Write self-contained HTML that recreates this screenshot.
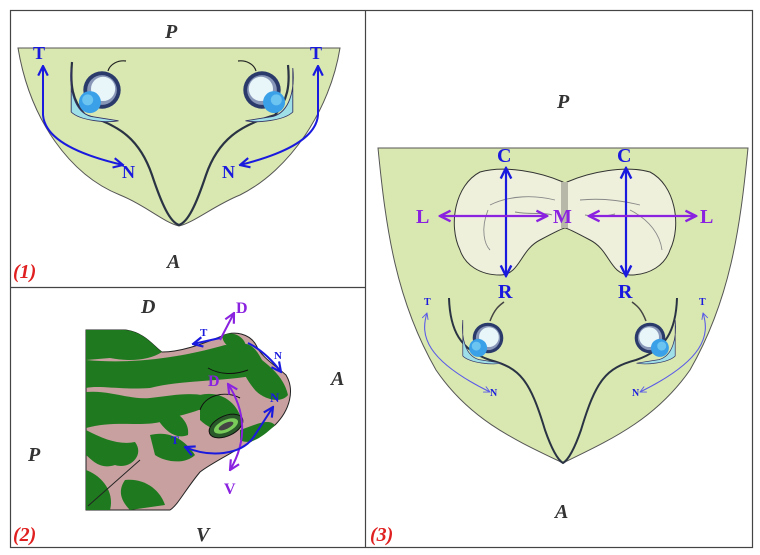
<!DOCTYPE html>
<html><head><meta charset="utf-8"><style>
html,body{margin:0;padding:0;background:#fff;width:760px;height:555px;overflow:hidden}
svg{display:block}
text{font-family:"Liberation Serif",serif;font-weight:bold}
.it{font-style:italic;fill:#333}
.b{fill:#1a1adf}
.v{fill:#8a22e0}
</style></head><body>
<svg width="760" height="555" viewBox="0 0 760 555" xmlns="http://www.w3.org/2000/svg">
<defs>
<marker id="ab" viewBox="0 0 10 10" refX="9" refY="5" markerWidth="6" markerHeight="6" orient="auto-start-reverse"><path d="M1,1 L9,5 L1,9" fill="none" stroke="#1a1adf" stroke-width="1.8"/></marker>
<marker id="av" viewBox="0 0 10 10" refX="9" refY="5" markerWidth="6" markerHeight="6" orient="auto-start-reverse"><path d="M1,1 L9,5 L1,9" fill="none" stroke="#8a22e0" stroke-width="1.8"/></marker>
<marker id="as" viewBox="0 0 10 10" refX="9" refY="5" markerWidth="7" markerHeight="7" orient="auto-start-reverse"><path d="M1,1 L9,5 L1,9" fill="none" stroke="#5a5ae8" stroke-width="1.2"/></marker>
<g id="eyeL">
<path d="M-28,-20 C-30,0 -25,20 -10,24 L15,28 C5,30 -20,28 -28,20 Z" fill="#9fe0e8" stroke="#336" stroke-width="0.8"/>
<circle cx="0" cy="0" r="17" fill="#2a3a6a"/>
<circle cx="0" cy="0" r="13.5" fill="#8896b8"/>
<circle cx="1" cy="-1" r="11" fill="#e8f6fa"/>
<circle cx="-11" cy="11" r="10" fill="#3aa0e8"/>
<circle cx="-13" cy="9" r="5" fill="#6cc4f0"/>
</g>
</defs>
<rect x="10.5" y="10.5" width="742" height="537" fill="none" stroke="#444" stroke-width="1.2"/>
<line x1="365.5" y1="10" x2="365.5" y2="548" stroke="#444" stroke-width="1.2"/>
<line x1="10" y1="287.5" x2="365" y2="287.5" stroke="#444" stroke-width="1.2"/>

<!-- PANEL 1 -->
<path d="M18,48 L340,48 C330,110 290,170 240,195 C215,205 195,222 179,226 C163,222 145,205 120,195 C70,175 30,120 18,48 Z" fill="#d9e8b0" stroke="#555" stroke-width="1"/>
<path d="M72,62 C70,85 72,100 85,115 C120,125 140,140 152,175 C162,205 170,222 179,225 C188,222 196,205 206,175 C218,140 240,125 275,115 C288,100 290,85 288,65" fill="none" stroke="#2a3344" stroke-width="2.2"/>
<use href="#eyeL" transform="translate(102,90) scale(1.1)"/>
<use href="#eyeL" transform="translate(262,90) scale(-1.1,1.1)"/>
<path d="M108,71 C110,64 118,60 126,61" fill="none" stroke="#222" stroke-width="1.2"/>
<path d="M256,71 C254,64 246,60 238,61" fill="none" stroke="#222" stroke-width="1.2"/>
<path d="M43,66 L43,115 C45,140 80,155 123,165" fill="none" stroke="#1a1adf" stroke-width="2" marker-start="url(#ab)" marker-end="url(#ab)"/>
<path d="M318,66 L318,115 C316,140 280,155 240,165" fill="none" stroke="#1a1adf" stroke-width="2" marker-start="url(#ab)" marker-end="url(#ab)"/>
<text x="33" y="59" font-size="18" class="b">T</text>
<text x="310" y="59" font-size="18" class="b">T</text>
<text x="122" y="178" font-size="18" class="b">N</text>
<text x="222" y="178" font-size="18" class="b">N</text>
<text x="165" y="38" font-size="20" class="it">P</text>
<text x="167" y="268" font-size="20" class="it">A</text>
<text x="13" y="278" font-size="20" font-style="italic" fill="#e02020">(1)</text>

<!-- PANEL 2 -->
<path d="M86,330 L125,330 C145,332 155,348 162,352 C180,352 200,345 222,336 C235,330 250,334 256,345 C262,358 275,365 286,375 C295,390 290,410 275,425 C250,445 215,460 200,472 C185,490 178,505 170,510 L86,510 Z" fill="#c8a0a0" stroke="#222" stroke-width="1"/>
<g fill="#1f7a1f">
<path d="M86,330 L125,330 C145,332 155,348 162,352 C150,360 130,362 110,358 L86,360 Z"/>
<path d="M86,360 C140,365 190,355 225,345 C250,345 262,362 258,375 C220,382 180,380 150,388 C120,390 100,385 86,388 Z"/>
<path d="M86,392 C110,390 130,400 150,398 C175,395 200,390 215,400 C205,412 180,414 160,422 C140,427 115,420 86,428 Z"/>
<path d="M86,430 C105,440 120,445 135,442 C145,455 130,470 115,465 C100,470 92,460 86,455 Z"/>
<path d="M150,435 C170,430 185,440 195,455 C185,465 165,462 155,455 Z"/>
<path d="M86,470 C100,475 115,490 110,510 L86,510 Z"/>
<path d="M125,480 C145,478 160,490 165,505 L130,510 C120,500 118,490 125,480 Z"/>
<path d="M240,345 C250,340 258,352 262,360 C272,368 284,378 288,395 C280,405 262,398 255,390 C245,378 236,362 240,345 Z"/>
<path d="M200,395 C220,390 238,402 242,422 C232,436 212,432 200,420 Z"/>
<path d="M222,336 C232,330 244,336 246,346 C236,352 224,348 222,336 Z"/>
<path d="M160,405 C175,410 190,420 188,435 C175,440 165,430 158,420 Z"/>
<path d="M240,430 C255,425 268,418 275,425 C260,440 248,445 240,440 Z"/>
</g>
<ellipse cx="226" cy="426" rx="18" ry="10" transform="rotate(-25 226 426)" fill="#2a5a2a" stroke="#111" stroke-width="1"/>
<ellipse cx="226" cy="426" rx="13" ry="6" transform="rotate(-25 226 426)" fill="#7acc5a"/>
<ellipse cx="226" cy="426" rx="8" ry="3" transform="rotate(-25 226 426)" fill="#444"/>
<path d="M200,410 C205,395 225,390 240,398" fill="none" stroke="#111" stroke-width="1"/>
<path d="M208,368 C220,375 235,375 248,370" fill="none" stroke="#111" stroke-width="1"/>
<path d="M88,506 L140,460" stroke="#222" stroke-width="1"/>
<path d="M193,344 L220,338" fill="none" stroke="#1a1adf" stroke-width="2" marker-start="url(#ab)"/>
<path d="M220,340 L234,313" fill="none" stroke="#8a22e0" stroke-width="2" marker-end="url(#av)"/>
<path d="M248,343 C262,350 272,360 281,372" fill="none" stroke="#1a1adf" stroke-width="2" marker-end="url(#ab)"/>
<path d="M228,384 C245,410 248,440 230,470" fill="none" stroke="#8a22e0" stroke-width="2" marker-start="url(#av)" marker-end="url(#av)"/>
<path d="M185,447 C210,458 240,455 253,438 L273,407" fill="none" stroke="#1a1adf" stroke-width="2" marker-start="url(#ab)" marker-end="url(#ab)"/>
<text x="236" y="313" font-size="16" class="v">D</text>
<text x="200" y="336" font-size="11" class="b">T</text>
<text x="274" y="359" font-size="11" class="b">N</text>
<text x="208" y="386" font-size="16" class="v">D</text>
<text x="270" y="402" font-size="13" class="b">N</text>
<text x="171" y="444" font-size="12" class="b">T</text>
<text x="224" y="494" font-size="16" class="v">V</text>
<text x="141" y="313" font-size="20" class="it">D</text>
<text x="331" y="385" font-size="20" class="it">A</text>
<text x="28" y="461" font-size="20" class="it">P</text>
<text x="196" y="541" font-size="20" class="it">V</text>
<text x="13" y="541" font-size="20" font-style="italic" fill="#e02020">(2)</text>

<!-- PANEL 3 -->
<path d="M378,148 L748,148 C740,230 730,300 690,370 C655,420 610,440 563,463 C515,440 470,420 436,370 C396,300 386,230 378,148 Z" fill="#d9e8b0" stroke="#555" stroke-width="1"/>
<path d="M449,298 C450,330 460,350 490,360 C520,368 530,380 545,430 C552,450 558,460 563,463 C568,460 574,450 581,430 C596,380 606,368 636,360 C666,350 676,330 677,298" fill="none" stroke="#2a3344" stroke-width="2"/>
<path d="M563,182 C540,172 505,165 480,172 C455,185 448,225 460,250 C465,265 480,275 500,275 C520,275 520,250 540,240 C555,232 563,228 565,228 Z" fill="#eef0dc" stroke="#333" stroke-width="1"/>
<path d="M567,182 C590,172 625,165 650,172 C675,185 682,225 670,250 C665,265 650,275 630,275 C610,275 610,250 590,240 C575,232 567,228 565,228 Z" fill="#eef0dc" stroke="#333" stroke-width="1"/>
<rect x="561" y="182" width="7" height="46" fill="#b8b8a8"/>
<g fill="none" stroke="#888" stroke-width="0.9">
<path d="M490,205 C510,195 535,195 555,200"/><path d="M488,210 C480,230 485,245 490,250"/><path d="M515,212 C530,215 545,212 552,215"/>
<path d="M580,200 C600,198 620,200 640,205"/><path d="M630,210 C650,220 660,235 662,250"/><path d="M585,215 C600,218 610,215 615,214"/>
</g>
<use href="#eyeL" transform="translate(488,338) scale(0.9)"/>
<use href="#eyeL" transform="translate(650,338) scale(-0.9,0.9)"/>
<path d="M490,321 C495,308 500,305 504,302" fill="none" stroke="#444" stroke-width="1.5"/>
<path d="M646,321 C641,308 636,305 632,302" fill="none" stroke="#444" stroke-width="1.5"/>
<line x1="506" y1="168" x2="506" y2="276" stroke="#1a1adf" stroke-width="2.2" marker-start="url(#ab)" marker-end="url(#ab)"/>
<line x1="626" y1="168" x2="626" y2="276" stroke="#1a1adf" stroke-width="2.2" marker-start="url(#ab)" marker-end="url(#ab)"/>
<line x1="440" y1="216" x2="547" y2="216" stroke="#8a22e0" stroke-width="2.2" marker-start="url(#av)" marker-end="url(#av)"/>
<line x1="589" y1="216" x2="696" y2="216" stroke="#8a22e0" stroke-width="2.2" marker-start="url(#av)" marker-end="url(#av)"/>
<text x="497" y="162" font-size="20" class="b">C</text>
<text x="617" y="162" font-size="20" class="b">C</text>
<text x="498" y="298" font-size="20" class="b">R</text>
<text x="618" y="298" font-size="20" class="b">R</text>
<text x="416" y="223" font-size="20" class="v">L</text>
<text x="553" y="223" font-size="20" class="v">M</text>
<text x="700" y="223" font-size="20" class="v">L</text>
<path d="M427,313 C420,335 425,360 490,392" fill="none" stroke="#5a5ae8" stroke-width="1.1" marker-start="url(#as)" marker-end="url(#as)"/>
<path d="M703,313 C710,335 705,360 640,392" fill="none" stroke="#5a5ae8" stroke-width="1.1" marker-start="url(#as)" marker-end="url(#as)"/>
<text x="424" y="305" font-size="10" class="b">T</text>
<text x="699" y="305" font-size="10" class="b">T</text>
<text x="490" y="396" font-size="10" class="b">N</text>
<text x="632" y="396" font-size="10" class="b">N</text>
<text x="557" y="108" font-size="20" class="it">P</text>
<text x="555" y="518" font-size="20" class="it">A</text>
<text x="370" y="541" font-size="20" font-style="italic" fill="#e02020">(3)</text>
</svg>
</body></html>
